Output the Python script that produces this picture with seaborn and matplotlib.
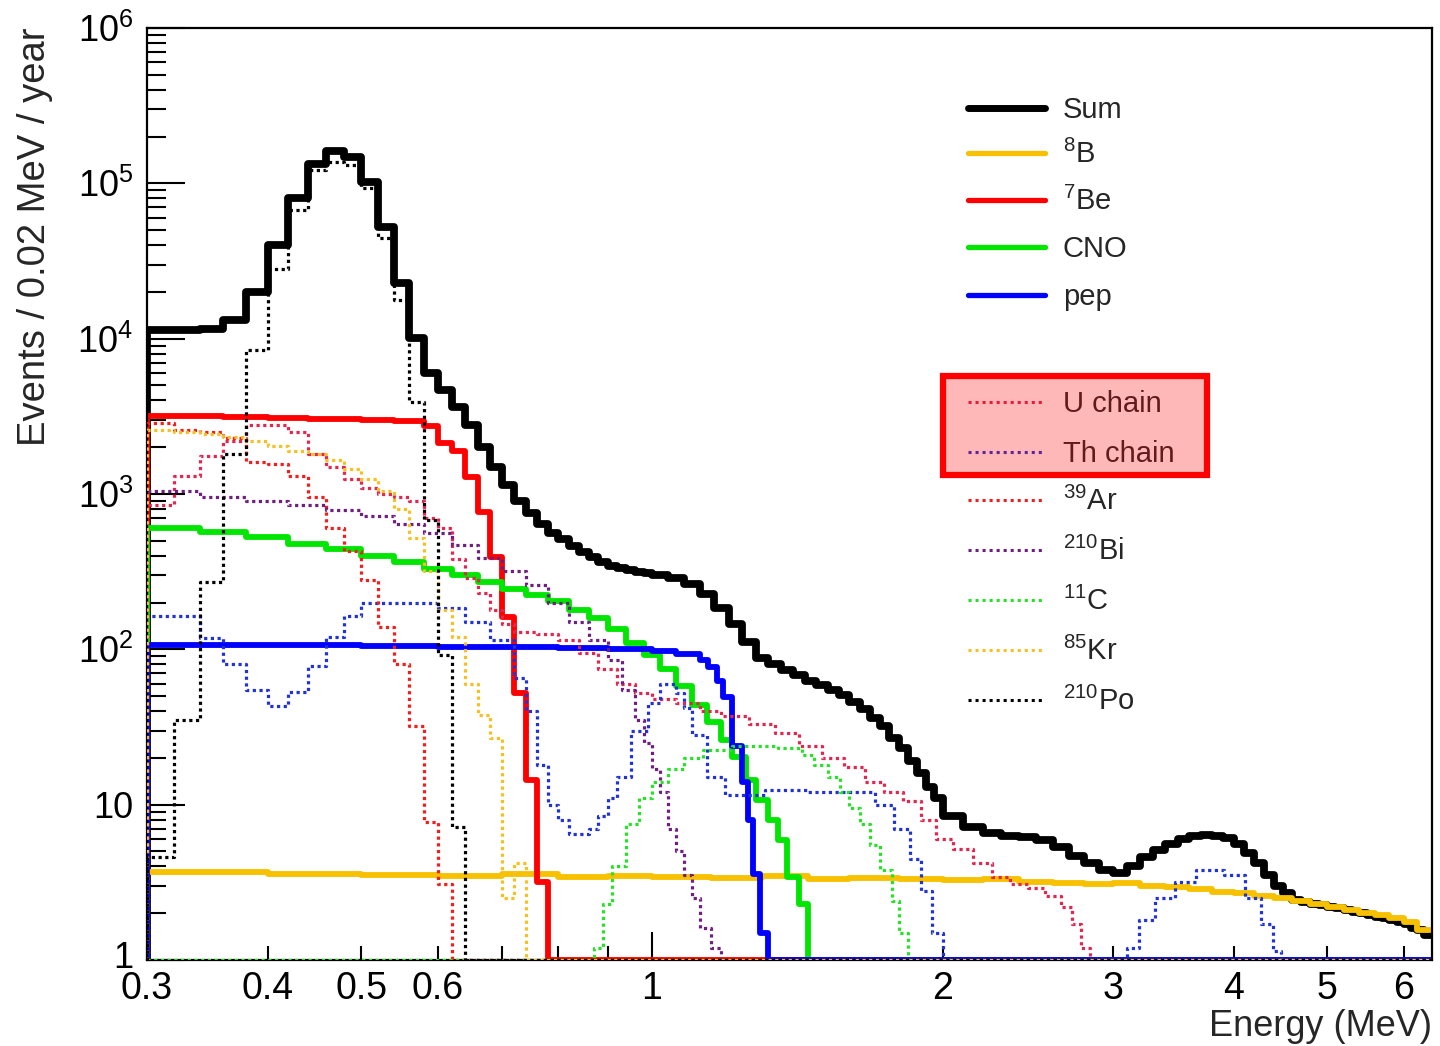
import numpy as np
import matplotlib
matplotlib.use("Agg")
import matplotlib.pyplot as plt
import matplotlib.transforms as mtransforms
from matplotlib.lines import Line2D
from matplotlib.patches import Rectangle
from matplotlib.ticker import FixedLocator, FixedFormatter, NullFormatter
import seaborn as sns

sns.set_style("ticks")
plt.rcParams['font.family'] = ['Liberation Sans', 'DejaVu Sans']
plt.rcParams['mathtext.fontset'] = 'custom'
plt.rcParams['mathtext.rm'] = 'Liberation Sans'
plt.rcParams['mathtext.it'] = 'Liberation Sans:italic'
plt.rcParams['mathtext.bf'] = 'Liberation Sans:bold'

FLOOR = 1.0
XMIN, XMAX = 0.30, 6.42

# ---------------- data (bin edges in MeV, bin contents in events / 0.02 MeV / year)
sum_E = np.round(np.r_[np.arange(30, 100, 2) / 100, np.arange(100, 200, 4) / 100,
                       np.arange(20, 64) / 10, [6.42]], 3)
sum_V = [11300, 11400, 11600, 13200, 20000, 40200, 80700, 134000, 162000, 148000,
         102000, 52500, 22900, 10100, 6000, 4680, 3640, 2800, 2000, 1500,
         1150, 900, 750, 640, 565, 510, 465, 425, 393, 365,
         344, 334, 324, 315, 310,
         300, 290, 262, 228, 185, 145, 112, 88, 80, 74, 68, 63, 59, 55, 51,
         46, 41, 36, 32, 27, 23, 19, 16, 13, 11,
         8.5, 7.2, 6.6, 6.3, 6.2, 5.9, 5.3, 4.7, 4.2, 3.8,
         3.65, 4.0, 4.6, 5.1, 5.6, 6.0, 6.3, 6.4, 6.3, 6.1,
         5.6, 4.9, 4.2, 3.5, 3.0, 2.7, 2.45, 2.35, 2.3, 2.25,
         2.2, 2.15, 2.1, 2.05, 2.0, 1.95, 1.9, 1.85, 1.8, 1.75,
         1.7, 1.6, 1.55, 1.45]

b8_E = [0.30, 0.40, 0.50, 0.60, 0.70, 0.80, 0.90, 1.00, 1.15, 1.30, 1.45, 1.60, 1.80,
        2.00, 2.20, 2.40, 2.60, 2.80, 3.00, 3.20, 3.40, 3.60, 3.80, 4.00, 4.20, 4.40,
        4.60, 4.80, 5.00, 5.20, 5.40, 5.60, 5.80, 6.00, 6.20, 6.42]
b8_V = [3.7, 3.6, 3.5, 3.45, 3.6, 3.4, 3.45, 3.4, 3.35, 3.45, 3.3, 3.35, 3.3,
        3.25, 3.3, 3.2, 3.15, 3.1, 3.15, 3.0, 2.95, 2.85, 2.75, 2.7, 2.6,
        2.5, 2.4, 2.3, 2.2, 2.1, 2.0, 1.95, 1.85, 1.75, 1.55]

be7_E = np.arange(30, 80, 2) / 100
be7_V = [3200, 3180, 3160, 3140, 3120, 3100, 3080, 3060, 3040, 3020, 3000, 2980,
         2960, 2940, 2720, 2120, 1880, 1290, 770, 395, 162, 52, 14.4, 3.2]

cno_E = [0.30, 0.34, 0.38, 0.42, 0.46, 0.50, 0.54, 0.58, 0.62, 0.66, 0.70, 0.74, 0.78,
         0.82, 0.86, 0.90, 0.94, 0.98, 1.02, 1.06, 1.10, 1.14, 1.18, 1.21, 1.25, 1.28,
         1.32, 1.35, 1.38, 1.42, 1.45]
cno_V = [600, 570, 530, 480, 440, 400, 365, 330, 300, 270, 245, 225, 205, 180, 158,
         135, 110, 92, 75, 58, 44, 34, 26, 20.3, 14.4, 10.7, 8.0, 5.9, 3.4, 2.3]

pep_E = [0.30, 0.40, 0.50, 0.60, 0.70, 0.80, 0.90, 1.00, 1.06, 1.121, 1.142, 1.167,
         1.184, 1.21, 1.239, 1.257, 1.272, 1.293, 1.318]
pep_V = [107, 106, 105, 104, 103, 102, 100, 97, 93, 85, 77, 63, 49, 24, 14, 8, 3.6, 1.5]

u_E = [0.30, 0.32, 0.34, 0.36, 0.38, 0.40, 0.42, 0.44, 0.46, 0.48, 0.50, 0.52, 0.54,
       0.56, 0.58, 0.60, 0.62, 0.64, 0.66, 0.68, 0.70, 0.72, 0.76, 0.80, 0.84, 0.88,
       0.92, 0.96, 1.00, 1.06, 1.12, 1.18, 1.26, 1.34, 1.42, 1.50, 1.58, 1.66, 1.74,
       1.82, 1.90, 1.97, 2.05, 2.15, 2.25, 2.35, 2.45, 2.55, 2.65, 2.72, 2.78, 2.84]
u_V = [850, 1300, 1750, 2200, 2800, 2800, 2500, 1800, 1500, 1250, 1100, 1000, 950,
       900, 700, 600, 380, 290, 230, 180, 145, 130, 125, 115, 95, 75,
       60, 52, 48, 45, 40, 37, 33, 29, 24, 20, 17.5, 14, 12,
       10.5, 8, 6, 5.2, 4.2, 3.4, 3.1, 2.9, 2.6, 2.2, 1.7, 1.2]

th_E = [0.30, 0.34, 0.36, 0.38, 0.40, 0.42, 0.44, 0.46, 0.48, 0.50, 0.60, 0.64, 0.68,
        0.72, 0.74, 0.76, 0.78, 0.80, 0.82, 0.86, 0.88, 0.90, 0.92, 0.95, 0.99, 1.02,
        1.06, 1.08, 1.10, 1.14, 1.19, 1.31, 1.45, 1.60, 1.70, 1.78, 1.85, 1.90, 1.95,
        2.00, 3.10, 3.19, 3.32, 3.48, 3.66, 3.91, 4.11, 4.27, 4.39, 4.48]
th_V = [165, 118, 80, 55, 43, 53, 78, 120, 165, 200, 185, 150, 115,
        65, 40, 18, 10, 8, 6.5, 7, 8.5, 11, 15, 30, 45, 60,
        52, 42, 28, 15, 11.5, 12.5, 12, 12, 10, 7, 4.5, 2.8, 1.5,
        FLOOR, 1.2, 1.8, 2.5, 3.2, 3.8, 3.5, 2.5, 1.7, 1.15]

ar_E = np.arange(30, 64, 2) / 100
ar_V = [2850, 2600, 2500, 2300, 1600, 1550, 1300, 950, 600, 430, 280, 140, 81, 32, 7.7, 3.1]

bi_E = [0.30, 0.34, 0.38, 0.42, 0.46, 0.50, 0.54, 0.58, 0.62, 0.66, 0.70, 0.74, 0.78,
        0.82, 0.86, 0.90, 0.93, 0.96, 0.98, 1.00, 1.02, 1.04, 1.06, 1.08, 1.10, 1.12,
        1.15, 1.18]
bi_V = [1050, 960, 900, 850, 790, 720, 640, 560, 470, 390, 320, 260, 200, 150, 115,
        85, 55, 35, 25, 17, 12, 7, 5, 3.5, 2.5, 1.6, 1.2]

c11_E = [0.87, 0.89, 0.91, 0.94, 0.97, 1.00, 1.04, 1.08, 1.13, 1.21, 1.35, 1.43, 1.47,
         1.52, 1.565, 1.60, 1.64, 1.68, 1.72, 1.77, 1.80, 1.84]
c11_V = [1.2, 2.3, 4.0, 7.5, 11, 14, 17, 20, 22.5, 24, 23, 21, 18, 15, 12, 9.5, 7.5,
         5.5, 3.8, 2.4, 1.5]

kr_E = np.arange(30, 76, 2) / 100
kr_V = [2600, 2500, 2450, 2330, 2200, 2050, 1900, 1800, 1650, 1450, 1250, 1050, 800,
        520, 320, 180, 120, 60, 38, 27, 2.5, 4.2]

po_E = np.arange(30, 66, 2) / 100
po_V = [4.6, 35, 270, 1800, 8500, 28000, 67000, 122000, 138000, 132000, 93000, 44600,
        17800, 3900, 680, 92, 7.2]

labels_solid = ["Sum", r"$^{8}$B", r"$^{7}$Be", "CNO", "pep"]
labels_dot = ["U chain", "Th chain", r"$^{39}$Ar", r"$^{210}$Bi", r"$^{11}$C",
              r"$^{85}$Kr", r"$^{210}$Po"]

# ---------------- styles
GOLD = "#f7c100"
DOT = (0, (1.0, 1.1))
series = [
    (sum_E, sum_V, "black", 5.6, "-"),
    (b8_E, b8_V, GOLD, 4.2, "-"),
    (be7_E, be7_V, "#ff0000", 4.2, "-"),
    (cno_E, cno_V, "#00e600", 4.2, "-"),
    (pep_E, pep_V, "#0000ff", 4.2, "-"),
    (u_E, u_V, "#e3264f", 2.3, DOT),
    (th_E, th_V, "#2233d6", 2.3, DOT),
    (ar_E, ar_V, "#f01e1e", 2.3, DOT),
    (bi_E, bi_V, "#6e2080", 2.3, DOT),
    (c11_E, c11_V, "#28e028", 2.3, DOT),
    (kr_E, kr_V, "#f5c020", 2.3, DOT),
    (po_E, po_V, "black", 2.3, DOT),
]


def step_xy(E, V):
    E = list(map(float, E))
    V = list(map(float, V))
    assert len(E) == len(V) + 1
    x = [XMIN] + E[:-1]
    y = [FLOOR] + V
    if E[-1] < XMAX - 1e-9:
        x += [E[-1], XMAX]
        y += [FLOOR, FLOOR]
    else:
        x += [E[-1]]
        y += [V[-1]]
    return np.array(x), np.array(y)


fig = plt.figure(figsize=(14.4, 10.46), dpi=100)
ax = fig.add_axes([147 / 1440, 1 - 960 / 1046, (1432 - 147) / 1440, (960 - 28) / 1046])
ax.set_xscale("log")
ax.set_yscale("log")

for i, (E, V, c, lw, ls) in enumerate(series):
    x, y = step_xy(E, V)
    sns.lineplot(x=x, y=y, ax=ax, color=c, linewidth=lw, linestyle=ls,
                 drawstyle="steps-post", estimator=None, sort=False, legend=False,
                 zorder=2 + i * 0.1)

ax.set_xlim(XMIN, XMAX)
ax.set_ylim(1, 1e6)

# ---------------- ticks
xt = [0.3, 0.4, 0.5, 0.6, 0.7, 0.8, 0.9, 1, 2, 3, 4, 5, 6]
xl = ["0.3", "0.4", "0.5", "0.6", "", "", "", "1", "2", "3", "4", "5", "6"]
ax.xaxis.set_major_locator(FixedLocator(xt))
ax.xaxis.set_major_formatter(FixedFormatter(xl))
ax.xaxis.set_minor_locator(FixedLocator([]))
ax.xaxis.set_minor_formatter(NullFormatter())
yt = [1, 10, 1e2, 1e3, 1e4, 1e5, 1e6]
yl = ["1", "10", r"10$^{2}$", r"10$^{3}$", r"10$^{4}$", r"10$^{5}$", r"10$^{6}$"]
ax.yaxis.set_major_locator(FixedLocator(yt))
ax.yaxis.set_major_formatter(FixedFormatter(yl))
ymin = [m * 10 ** d for d in range(0, 6) for m in range(2, 10)]
ax.yaxis.set_minor_locator(FixedLocator(ymin))
ax.yaxis.set_minor_formatter(NullFormatter())

ax.tick_params(axis="both", which="both", direction="in", top=False, right=False,
               width=1.5, colors="black")
ax.tick_params(axis="x", which="major", length=10, pad=8, labelsize=27)
ax.tick_params(axis="y", which="major", length=27, pad=10, labelsize=26)
ax.tick_params(axis="y", which="minor", length=14)
for t, v in zip(ax.xaxis.get_major_ticks(), xt):
    if v == 1:
        t.tick1line.set_markersize(20)
fig.canvas.draw()
# lift the y label "1" slightly so it sits just above "0.3", as in the original
ytl = ax.get_yticklabels()
ytl[0].set_transform(ytl[0].get_transform() +
                     mtransforms.ScaledTranslation(0, 5 / 100, fig.dpi_scale_trans))
for sp in ax.spines.values():
    sp.set_linewidth(1.6)
    sp.set_color("black")
    sp.set_visible(True)

ax.set_xlabel("Energy (MeV)", fontsize=26, loc="right")
ax.xaxis.set_label_coords(1.0, -0.053)
ax.xaxis.label.set_va("top")
ax.set_ylabel("Events / 0.02 MeV / year", fontsize=27.5, loc="top")
ax.yaxis.set_label_coords(-0.073, 1.0)

# ---------------- legend (drawn by hand to match row positions)
H = 1046.0
W = 1440.0
rows_solid = [108, 153, 200, 247, 295]
rows_dot = [402, 452, 500, 550, 600, 650, 700]
for (E, V, c, lw, ls), lab, yr in zip(series[:5], labels_solid, rows_solid):
    fig.add_artist(Line2D([968 / W, 1045 / W], [1 - yr / H, 1 - yr / H],
                          transform=fig.transFigure, color=c,
                          linewidth=(5.0 if lab == "Sum" else 3.8), linestyle=ls))
    fig.text(1063 / W, 1 - (yr + 10) / H, lab, fontsize=21, va="baseline", ha="left")
for (E, V, c, lw, ls), lab, yr in zip(series[5:], labels_dot, rows_dot):
    fig.add_artist(Line2D([968 / W, 1045 / W], [1 - yr / H, 1 - yr / H],
                          transform=fig.transFigure, color=c, linewidth=2.2,
                          linestyle=(0, (1.0, 1.3))))
    fig.text(1063 / W, 1 - (yr + 10) / H, lab, fontsize=21, va="baseline", ha="left")

# highlight box around U / Th chain entries
fig.add_artist(Rectangle((943 / W, 1 - 475 / H), (1207 - 943) / W, (475 - 376) / H,
                         transform=fig.transFigure, facecolor=(1, 0, 0, 0.28),
                         edgecolor="#ff0000", linewidth=4.5, zorder=10))

fig.savefig("out.png", dpi=100, facecolor="white")
